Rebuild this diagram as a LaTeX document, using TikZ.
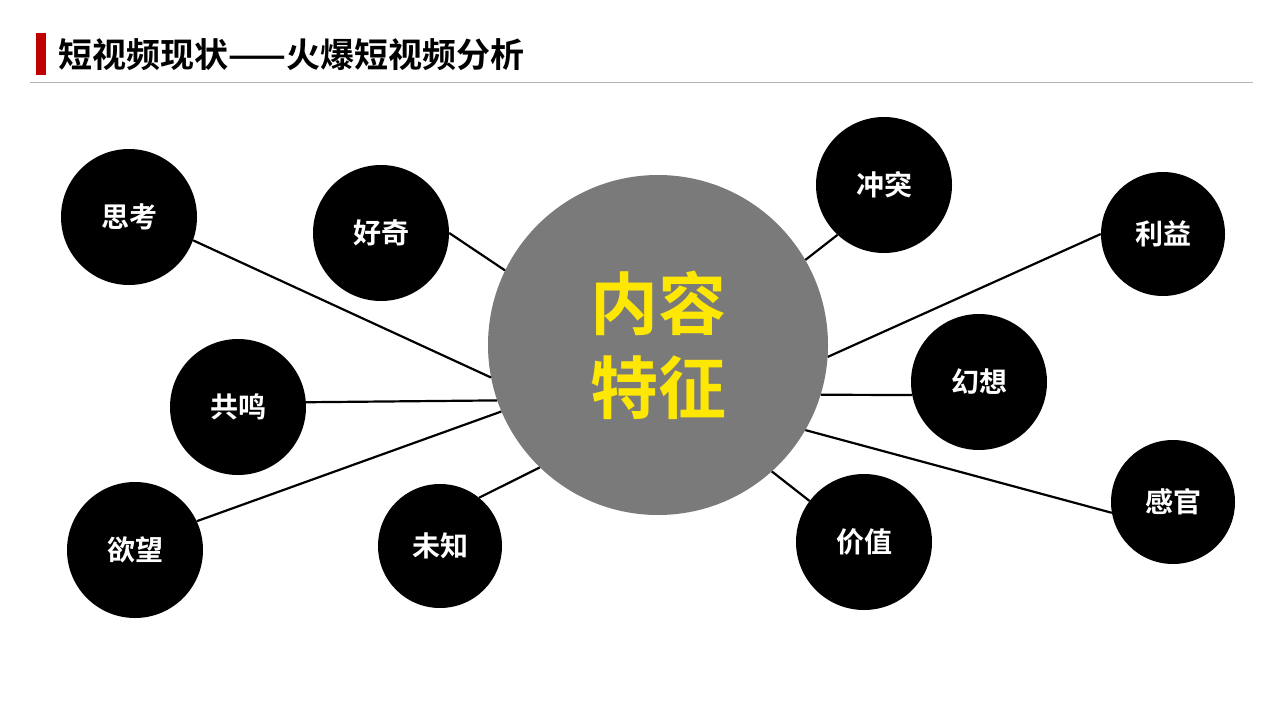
\documentclass[tikz,border=0pt]{standalone}
\usepackage{fontspec}
\newfontfamily\cjk{Noto Sans CJK SC Bold}
\begin{document}
\begin{tikzpicture}[x=1pt,y=-1pt,
  bub/.style={circle,fill=black,inner sep=0pt,minimum size=136pt,text=white,font=\cjk\fontsize{28}{30}\selectfont},
  con/.style={line width=2.2pt,black}]
\useasboundingbox (0,0) rectangle (1280,720);
\fill[white] (0,0) rectangle (1280,720);
\fill[red!75!black] (36,33) rectangle (46,75);
\node[anchor=west,inner sep=0pt,font=\cjk\fontsize{34}{36}\selectfont] (title) at (58,55) {短视频现状——火爆短视频分析};
\draw[gray!60,line width=0.8pt] (30,82) -- (1253,82);
\node[circle,fill=gray!102!black,fill=black!52,inner sep=0pt,minimum size=340pt,text=yellow!90!orange,align=center,font=\cjk\fontsize{68}{84}\selectfont] (c) at (658,345) {内容\\特征};
\node[bub] (a1) at (129,217) {思考};
\node[bub] (a2) at (381,233) {好奇};
\node[bub] (a3) at (884,185) {冲突};
\node[bub,minimum size=124pt] (a4) at (1163,234) {利益};
\node[bub] (a5) at (238,407) {共鸣};
\node[bub] (a6) at (979,382) {幻想};
\node[bub] (a7) at (135,550) {欲望};
\node[bub,minimum size=124pt] (a8) at (440,546) {未知};
\node[bub] (a9) at (864,542) {价值};
\node[bub,minimum size=124pt] (a10) at (1173,502) {感官};
\draw[con] (a1.340) -- (c.191);
\draw[con] (a2.0) -- (c.154);
\draw[con] (a3.227) -- (c.30);
\draw[con] (a4.180) -- (c.356);
\draw[con] (a5.4) -- (c.199.5);
\draw[con] (a6.191) -- (c.343);
\draw[con] (a7.25) -- (c.203.5);
\draw[con] (a8.51) -- (c.226);
\draw[con] (a9.143) -- (c.312);
\draw[con] (a10.190) -- (c.330);
\end{tikzpicture}
\end{document}
